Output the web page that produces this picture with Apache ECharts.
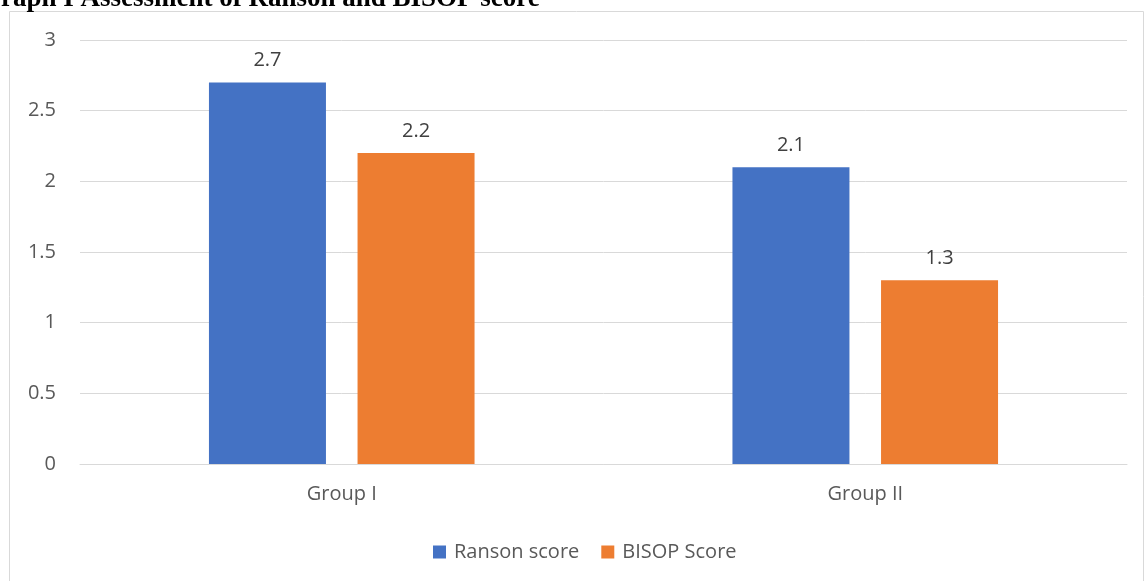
<!DOCTYPE html>
<html>
<head>
<meta charset="utf-8">
<script src="https://cdn.jsdelivr.net/npm/echarts@6/dist/echarts.min.js"></script>
<style>
  html, body { margin: 0; padding: 0; background: #fff; }
  #chart { width: 1145px; height: 581px; }
</style>
</head>
<body>
<div id="chart"></div>
<script>
var categories = ['Group I', 'Group II'];
var ransonScore = [2.7, 2.1];
var bisopScore = [2.2, 1.3];
var yTicks = [0, 0.5, 1, 1.5, 2, 2.5, 3];

var chartDom = document.getElementById('chart');
var myChart = echarts.init(chartDom);

var labelFont = '"Open Sans", sans-serif';

var option = {
    animation: false,
    graphic: [
        {
            type: 'rect',
            shape: { x: 9.5, y: 11.5, width: 1134, height: 600 },
            style: { fill: 'none', stroke: '#d9d9d9', lineWidth: 1 },
            z: -1
        },
        {
            type: 'text',
            left: -20,
            top: -14,
            style: {
                text: 'Graph I Assessment of Ranson and BISOP score',
                font: 'bold 27px "Liberation Serif", "Times New Roman", serif',
                fill: '#000'
            }
        }
    ],
    grid: { left: 80, right: 18, top: 40, bottom: 117 },
    legend: {
        data: ['Ranson score', 'BISOP Score'],
        left: 428,
        top: 537,
        itemWidth: 13,
        itemHeight: 13,
        itemGap: 22,
        icon: 'rect',
        textStyle: { fontSize: 20, color: '#595959', fontFamily: labelFont, padding: [0, 0, 0, 3] }
    },
    xAxis: {
        type: 'category',
        data: categories,
        axisLine: { lineStyle: { color: '#d9d9d9' } },
        axisTick: { show: false },
        axisLabel: { fontSize: 20, color: '#595959', fontFamily: labelFont, margin: 20 }
    },
    yAxis: {
        type: 'value',
        min: yTicks[0],
        max: yTicks[yTicks.length - 1],
        interval: 0.5,
        axisLine: { show: false },
        axisTick: { show: false },
        splitLine: { lineStyle: { color: '#d9d9d9' } },
        axisLabel: { fontSize: 20, color: '#595959', fontFamily: labelFont, margin: 24 }
    },
    series: [
        {
            name: 'Ranson score',
            type: 'bar',
            data: ransonScore,
            barWidth: 117,
            barGap: '27%',
            itemStyle: { color: '#4472c4' },
            label: {
                show: true, position: 'top', distance: 12,
                fontSize: 20, color: '#404040', fontFamily: labelFont
            }
        },
        {
            name: 'BISOP Score',
            type: 'bar',
            data: bisopScore,
            barWidth: 117,
            barGap: '27%',
            itemStyle: { color: '#ed7d31' },
            label: {
                show: true, position: 'top', distance: 12,
                fontSize: 20, color: '#404040', fontFamily: labelFont
            }
        }
    ]
};

option && myChart.setOption(option);
</script>
</body>
</html>
